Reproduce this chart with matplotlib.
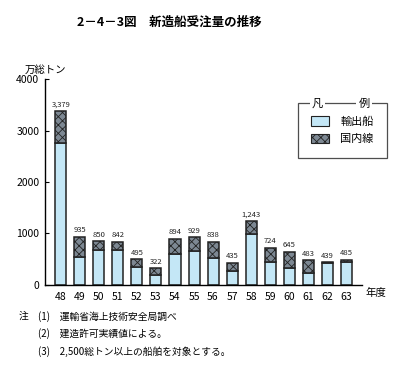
import matplotlib.pyplot as plt
from matplotlib.patches import Patch

plt.rcParams['font.family'] = ['Noto Sans CJK JP', 'DejaVu Sans']
plt.rcParams['hatch.linewidth'] = 0.6

years = ['48', '49', '50', '51', '52', '53', '54', '55', '56', '57', '58', '59', '60', '61', '62', '63']
totals = [3379, 935, 850, 842, 495, 322, 894, 929, 838, 435, 1243, 724, 645, 483, 439, 485]
export = [2750, 550, 670, 670, 350, 185, 605, 650, 525, 270, 995, 440, 330, 230, 420, 445]
total_labels = ['3,379', '935', '850', '842', '495', '322', '894', '929', '838', '435',
                '1,243', '724', '645', '483', '439', '485']
domestic = [t - e for t, e in zip(totals, export)]

light = '#c4e7f6'
dark = '#7d8893'

fig = plt.figure(figsize=(4.12, 3.84), dpi=100)
ax = fig.add_axes([0.109, 0.258, 0.77, 0.536])

x = list(range(len(years)))
w = 0.58
ax.bar(x, export, width=w, color=light, edgecolor='#222222', linewidth=1.1)
ax.bar(x, domestic, width=w, bottom=export, color=dark, edgecolor='#222222',
       linewidth=1.1, hatch='xxxx')

for xi, t, lab in zip(x, totals, total_labels):
    ax.text(xi, t + 50, lab, ha='center', va='bottom', fontsize=5.5, color='#222222')

ax.set_xlim(-0.84, 15.84)
ax.set_ylim(0, 4000)
ax.set_yticks([0, 1000, 2000, 3000, 4000])
ax.set_xticks(x)
ax.set_xticklabels(years)
ax.tick_params(axis='y', direction='in', length=3, labelsize=7.5, pad=4)
ax.tick_params(axis='x', length=0, labelsize=7.5, pad=5)
ax.spines['top'].set_visible(False)
ax.spines['right'].set_visible(False)
ax.spines['left'].set_linewidth(1.0)
ax.spines['bottom'].set_linewidth(1.0)

ax.text(-0.063, 1.044, '万総トン', transform=ax.transAxes, fontsize=7.5, ha='left', va='center')
ax.text(1.01, -0.04, '年度', transform=ax.transAxes, fontsize=7.5, ha='left', va='center')

handles = [Patch(facecolor=light, edgecolor='#222222', linewidth=0.8, label='輸出船'),
           Patch(facecolor=dark, edgecolor='#222222', linewidth=0.8, hatch='xxxx', label='国内線')]
leg = ax.legend(handles=handles, loc='upper left', bbox_to_anchor=(0.798, 0.885),
                fontsize=8, frameon=True, fancybox=False, borderpad=1.2,
                handlelength=1.6, handleheight=1.0, handletextpad=1.0, labelspacing=0.6,
                borderaxespad=0)
leg.get_frame().set_edgecolor('#222222')
leg.get_frame().set_linewidth(0.9)

fig.canvas.draw()
bb = leg.get_window_extent().transformed(ax.transAxes.inverted())
ax.text(bb.x0 + 0.22 * bb.width, bb.y1, '凡', transform=ax.transAxes, fontsize=8,
        ha='center', va='center_baseline', zorder=10,
        bbox=dict(facecolor='white', edgecolor='none', pad=1.5))
ax.text(bb.x0 + 0.74 * bb.width, bb.y1, '例', transform=ax.transAxes, fontsize=8,
        ha='center', va='center_baseline', zorder=10,
        bbox=dict(facecolor='white', edgecolor='none', pad=1.5))

fig.text(0.41, 0.943, '2－4－3図　新造船受注量の推移', ha='center', va='center',
         fontsize=9, fontweight='bold')

fig.text(0.045, 0.177, '注', fontsize=7, va='center')
notes = ['(1)　運輸省海上技術安全局調べ', '(2)　建造許可実績値による。',
         '(3)　2,500総トン以上の船舶を対象とする。']
for i, n in enumerate(notes):
    fig.text(0.092, 0.177 - i * 0.046, n, fontsize=7, va='center')

fig.savefig('out.png', dpi=100)
